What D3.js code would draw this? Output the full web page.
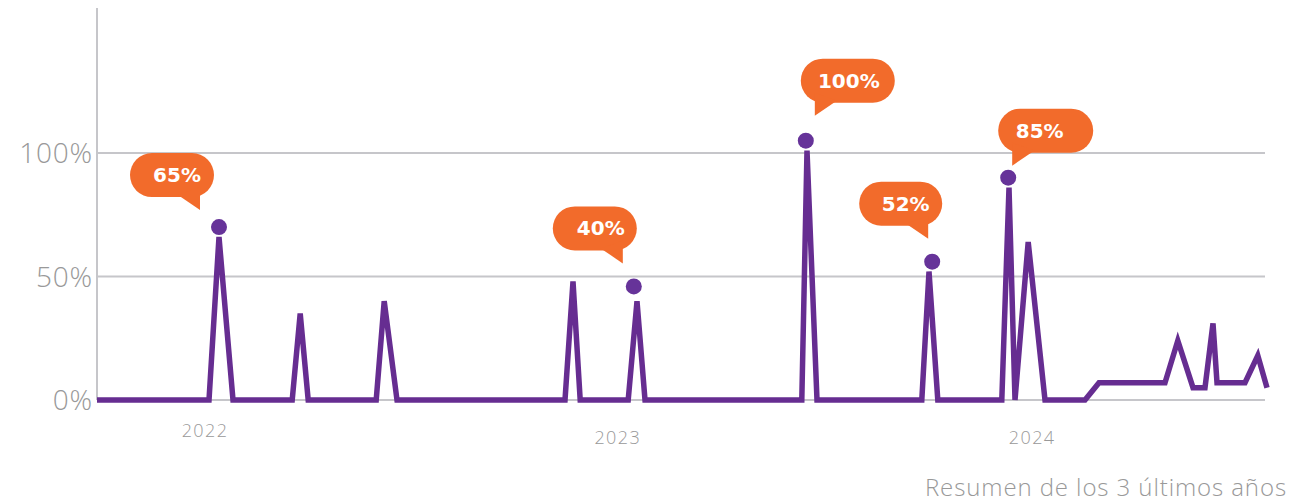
<!DOCTYPE html>
<html>
<head>
<meta charset="utf-8">
<script src="https://cdn.jsdelivr.net/npm/d3@7"></script>
<style>
  html, body { margin: 0; padding: 0; background: #fff; }
  svg { display: block; }
  .tick-label { font-family: "Open Sans", sans-serif; font-weight: 300; fill: #999; }
  .callout-text { font-family: "DejaVu Sans", sans-serif; font-weight: bold; fill: #fff; font-size: 20px; }
</style>
</head>
<body>
<div id="chart"></div>
<script>
// series: x = week index since start, y = percent
const weeks = [0, 14, 15.25, 17, 24.4, 25.4, 26.4, 34.9, 35.9, 37.5, 58.5, 59.5, 60.4,
  66.4, 67.5, 68.5, 88.1, 88.75, 90, 103.1, 104, 105.1, 113.1, 114, 114.75, 116.4, 118.5,
  123.5, 125.25, 133.5, 135.1, 137, 138.5, 139.5, 140, 143.5, 145.1, 146.25];
const values = [0, 0, 66, 0, 0, 35, 0, 0, 40, 0, 0, 48, 0,
  0, 40, 0, 0, 101, 0, 0, 52, 0, 0, 86, 0, 64, 0,
  0, 7, 7, 24, 5, 5, 31, 7, 7, 18, 5];

// highlighted peaks
const markerWeeks = [15.25, 67.1, 88.6, 104.4, 113.9];
const markerValues = [70, 46, 105, 56, 90];
const markerLabels = ['65%', '40%', '100%', '52%', '85%'];

// axis ticks
const yTicks = [0, 50, 100];
const yearLabels = ['2022', '2023', '2024'];
const yearWeeks = [13.5, 65.1, 116.9];

const caption = 'Resumen de los 3 últimos años';

// manual placement of the callout bubbles (relative to the marker dot)
const calloutLayout = [
  {dx: -89, dy: -74, w: 84, tail: 'right', textDx: 5},
  {dx: -81, dy: -80, w: 84, tail: 'right', textDx: 6},
  {dx: -5,  dy: -82, w: 94, tail: 'left',  textDx: 1},
  {dx: -73, dy: -80, w: 83, tail: 'right', textDx: 5},
  {dx: -10, dy: -69, w: 95, tail: 'left',  textDx: -6}
];

const config = {
  width: 1306,
  height: 502,
  left: 97,
  right: 1267,
  gridRight: 1265,
  zeroY: 400,
  hundredY: 153,
  axisTop: 8,
  purple: '#662d91',
  orange: '#f26b2b',
  grid: '#c6c6ca'
};

const svg = d3.select('#chart').append('svg')
    .attr('width', config.width)
    .attr('height', config.height);

const x = d3.scaleLinear()
    .domain([0, 146.25])
    .range([config.left, config.right]);

const y = d3.scaleLinear()
    .domain([0, 100])
    .range([config.zeroY, config.hundredY]);

// gridlines
svg.append('g')
  .selectAll('line')
  .data(yTicks)
  .join('line')
    .attr('x1', config.left)
    .attr('x2', config.gridRight)
    .attr('y1', d => y(d))
    .attr('y2', d => y(d))
    .attr('stroke', config.grid)
    .attr('stroke-width', 2);

// vertical axis line
svg.append('line')
    .attr('x1', config.left)
    .attr('x2', config.left)
    .attr('y1', config.axisTop)
    .attr('y2', y(0))
    .attr('stroke', config.grid)
    .attr('stroke-width', 2);

// y tick labels
svg.append('g')
  .selectAll('text')
  .data(yTicks)
  .join('text')
    .attr('class', 'tick-label')
    .attr('x', config.left - 4)
    .attr('y', d => y(d) + 10)
    .attr('text-anchor', 'end')
    .style('font-size', '28px')
    .style('letter-spacing', '0.8px')
    .text(d => d + '%');

// year labels
svg.append('g')
  .selectAll('text')
  .data(yearLabels)
  .join('text')
    .attr('class', 'tick-label')
    .attr('x', (d, i) => x(yearWeeks[i]))
    .attr('y', (d, i) => i === 0 ? 437 : 444)
    .attr('text-anchor', 'middle')
    .style('font-size', '18px')
    .style('letter-spacing', '1.4px')
    .text(d => d);

// the line
const points = weeks.map((w, i) => [w, values[i]]);
const line = d3.line()
    .x(d => x(d[0]))
    .y(d => y(d[1]));

svg.append('path')
    .datum(points)
    .attr('fill', 'none')
    .attr('stroke', config.purple)
    .attr('stroke-width', 5.5)
    .attr('stroke-linejoin', 'miter')
    .attr('d', line);

// marker dots
const markers = markerWeeks.map((w, i) => ({
  cx: x(w), cy: y(markerValues[i]), label: markerLabels[i], layout: calloutLayout[i]
}));

svg.append('g')
  .selectAll('circle')
  .data(markers)
  .join('circle')
    .attr('cx', d => d.cx)
    .attr('cy', d => d.cy)
    .attr('r', 8)
    .attr('fill', '#663399');

// callouts
const h = 44;
const callout = svg.append('g')
  .selectAll('g')
  .data(markers)
  .join('g')
    .attr('transform', d => `translate(${d.cx + d.layout.dx},${d.cy + d.layout.dy})`);

callout.append('rect')
    .attr('width', d => d.layout.w)
    .attr('height', h)
    .attr('rx', 22)
    .attr('fill', config.orange);

callout.append('path')
    .attr('fill', config.orange)
    .attr('d', d => {
      const w = d.layout.w;
      if (d.layout.tail === 'right') {
        return `M${w - 36},${h - 2} L${w - 14},${h - 10} L${w - 14},${h + 13} Z`;
      }
      return `M14,${h - 10} L36,${h - 2} L14,${h + 13} Z`;
    });

callout.append('text')
    .attr('class', 'callout-text')
    .attr('x', d => d.layout.w / 2 + d.layout.textDx)
    .attr('y', h / 2 + 7)
    .attr('text-anchor', 'middle')
    .text(d => d.label);

// caption
svg.append('text')
    .attr('class', 'tick-label')
    .attr('x', 1287)
    .attr('y', 496)
    .attr('text-anchor', 'end')
    .style('font-size', '24px')
    .style('letter-spacing', '0.9px')
    .text(caption);
</script>
</body>
</html>
